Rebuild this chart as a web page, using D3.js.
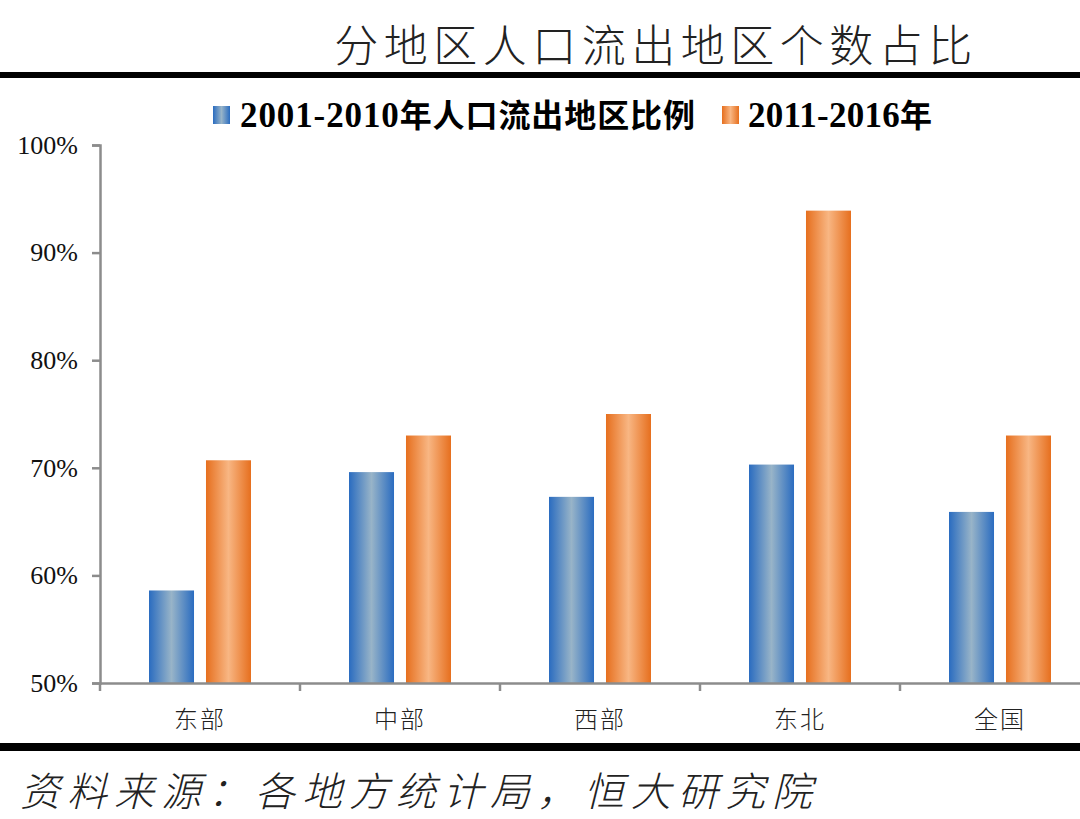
<!DOCTYPE html>
<html><head><meta charset="utf-8">
<script src="https://cdn.jsdelivr.net/npm/d3@7"></script>
<style>html,body{margin:0;padding:0;background:#fff;}svg{display:block;}</style>
</head><body>
<svg id="chart" width="1080" height="819"></svg>
<script>
const categories = ["东部", "中部", "西部", "东北", "全国"];
const seriesNames = ["2001-2010年人口流出地区比例", "2011-2016年"];
const series2001_2010 = [58.6, 69.6, 67.3, 70.3, 65.9];
const series2011_2016 = [70.7, 73.0, 75.0, 93.9, 73.0];
const yTicks = [50, 60, 70, 80, 90, 100];
const titleText = "分地区人口流出地区个数占比";
const sourceText = "资料来源：各地方统计局，恒大研究院";

const svg = d3.select("#chart");
const W = 1080, H = 819;
const cjk = "'Noto Sans CJK SC', 'Noto Sans', sans-serif";
const serif = "'Liberation Serif', 'DejaVu Serif', serif";

// gradients
const defs = svg.append("defs");
function grad(id, edge, mid) {
  const g = defs.append("linearGradient").attr("id", id).attr("x1", "0%").attr("x2", "100%").attr("y1", "0%").attr("y2", "0%");
  g.append("stop").attr("offset", "0%").attr("stop-color", edge);
  g.append("stop").attr("offset", "50%").attr("stop-color", mid);
  g.append("stop").attr("offset", "100%").attr("stop-color", edge);
}
grad("gBlue", "#2a6cc0", "#98b4c8");
grad("gOrange", "#e66f1e", "#f8b683");
const fills = ["url(#gBlue)", "url(#gOrange)"];

// title
svg.append("text").attr("x", 656).attr("y", 62).attr("text-anchor", "middle")
  .attr("font-family", cjk).attr("font-weight", 300).attr("font-size", 44)
  .attr("letter-spacing", 5.5).attr("fill", "#222").text(titleText);

// heavy rules
svg.append("rect").attr("x", 0).attr("y", 72).attr("width", W).attr("height", 6).attr("fill", "#000");
svg.append("rect").attr("x", 0).attr("y", 743).attr("width", W).attr("height", 8).attr("fill", "#000");

// scales
const y = d3.scaleLinear().domain([50, 100]).range([683, 145]);
const x0 = d3.scaleBand().domain(categories).range([100, 1100]).paddingInner(0).paddingOuter(0);
const x1 = d3.scaleBand().domain([0, 1]).range([0, x0.bandwidth()]).paddingInner(0.21).paddingOuter(0.86);

// bars
const data = categories.map((c, i) => ({ c, v: [series2001_2010[i], series2011_2016[i]] }));
const groups = svg.append("g").selectAll("g").data(data).join("g")
  .attr("transform", d => `translate(${x0(d.c)},0)`);
groups.selectAll("rect").data(d => d.v.map((v, k) => ({ v, k }))).join("rect")
  .attr("x", d => x1(d.k)).attr("width", x1.bandwidth())
  .attr("y", d => y(d.v)).attr("height", d => y(50) - y(d.v))
  .attr("fill", d => fills[d.k]);

// y axis
const yAxis = svg.append("g").attr("transform", "translate(100,0)")
  .call(d3.axisLeft(y).tickValues(yTicks).tickSize(8).tickPadding(14).tickFormat(d => d + "%"));
yAxis.select(".domain").attr("stroke", "#8c8c8c").attr("stroke-width", 2.5);
yAxis.selectAll(".tick line").attr("stroke", "#8c8c8c").attr("stroke-width", 2.5);
yAxis.selectAll(".tick text").attr("font-family", serif).attr("font-size", 26).attr("fill", "#111");

// x axis
const xAxis = svg.append("g").attr("transform", "translate(0,683)")
  .call(d3.axisBottom(x0).tickSize(0).tickPadding(28));
xAxis.select(".domain").attr("stroke", "#8c8c8c").attr("stroke-width", 2.5);
xAxis.selectAll(".tick text").attr("font-family", cjk).attr("font-weight", 300).attr("font-size", 24)
  .attr("fill", "#222").attr("letter-spacing", 2);
// category boundary ticks
const bounds = categories.map(c => x0(c)).concat([x0(categories[categories.length - 1]) + x0.bandwidth()]);
svg.append("g").selectAll("line").data(bounds).join("line")
  .attr("x1", d => d).attr("x2", d => d).attr("y1", 683).attr("y2", 691)
  .attr("stroke", "#8c8c8c").attr("stroke-width", 2.5);

// legend
const leg = svg.append("g");
const legItems = [
  { name: seriesNames[0], sx: 213, tx: 240, w: 455 },
  { name: seriesNames[1], sx: 722, tx: 748, w: 184 }
];
legItems.forEach((it, k) => {
  leg.append("rect").attr("x", it.sx).attr("y", 106).attr("width", 17).attr("height", 18).attr("fill", fills[k]);
  const t = leg.append("text").attr("x", it.tx).attr("y", 127)
    .attr("font-weight", "bold").attr("fill", "#000")
    .attr("textLength", it.w).attr("lengthAdjust", "spacing");
  const m = it.name.match(/^([0-9\-]+)(.*)$/);
  t.append("tspan").attr("font-family", serif).attr("font-size", 35).text(m[1]);
  t.append("tspan").attr("font-family", cjk).attr("font-size", 32).text(m[2]);
});

// source
svg.append("text").attr("x", 20).attr("y", 806)
  .attr("font-family", cjk).attr("font-weight", 300).attr("font-size", 40)
  .attr("font-style", "italic").attr("letter-spacing", 7).attr("fill", "#222")
  .text(sourceText);
</script>
</body></html>
